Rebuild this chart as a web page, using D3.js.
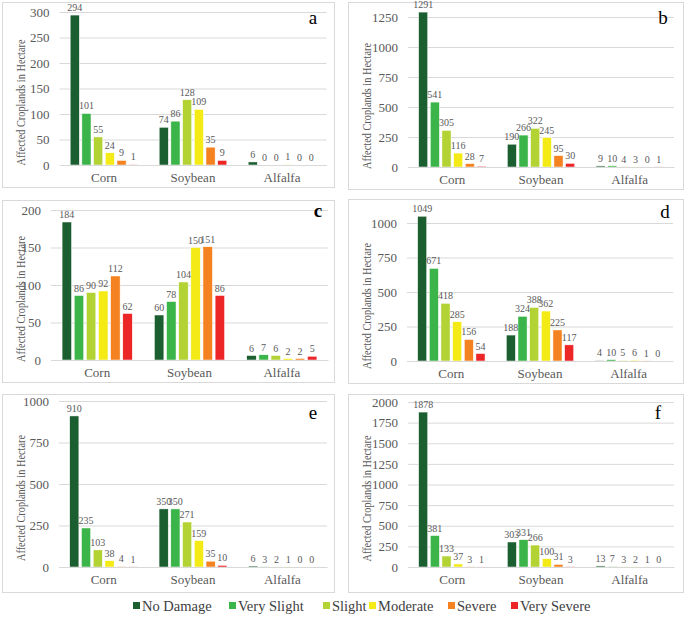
<!DOCTYPE html>
<html><head><meta charset="utf-8">
<script src="https://cdn.jsdelivr.net/npm/d3@7"></script>
</head><body style="margin:0">
<svg id="c" width="685" height="617" style="display:block" font-family="Liberation Serif"></svg>
<script>
const categories = ["Corn", "Soybean", "Alfalfa"];
const series = ["No Damage", "Very Slight", "Slight", "Moderate", "Severe", "Very Severe"];
const colors = ["#1b5e30", "#3bb54a", "#b3d234", "#f4ea16", "#f58220", "#ec2527"];

const panelA = [[294,101,55,24,9,1],[74,86,128,109,35,9],[6,0,0,1,0,0]];
const panelB = [[1291,541,305,116,28,7],[190,266,322,245,95,30],[9,10,4,3,0,1]];
const panelC = [[184,86,90,92,112,62],[60,78,104,150,151,86],[6,7,6,2,2,5]];
const panelD = [[1049,671,418,285,156,54],[188,324,388,362,225,117],[4,10,5,6,1,0]];
const panelE = [[910,235,103,38,4,1],[350,350,271,159,35,10],[6,3,2,1,0,0]];
const panelF = [[1878,381,133,37,3,1],[303,331,266,100,31,3],[13,7,3,2,1,0]];

const ticksA = [0,50,100,150,200,250,300];
const ticksB = [0,250,500,750,1000,1250];
const ticksC = [0,50,100,150,200];
const ticksD = [0,250,500,750,1000];
const ticksE = [0,250,500,750,1000];
const ticksF = [0,250,500,750,1000,1250,1500,1750,2000];

const panels = [
  {label:"a", data:panelA, ticks:ticksA, box:[2,2,334,187], x:[59.5,326.5], y:[165,12], lab:[313,24], bold:false},
  {label:"b", data:panelB, ticks:ticksB, box:[348,2,683,189], x:[408,674], y:[167,17], lab:[663,24], bold:false},
  {label:"c", data:panelC, ticks:ticksC, box:[2,200,334,382], x:[51,328], y:[360,210], lab:[318,217], bold:true},
  {label:"d", data:panelD, ticks:ticksD, box:[348,199,683,383], x:[407,673], y:[361,223], lab:[665,218], bold:false},
  {label:"e", data:panelE, ticks:ticksE, box:[2,394,334,592], x:[59,327], y:[567,401], lab:[313,419], bold:false},
  {label:"f", data:panelF, ticks:ticksF, box:[348,394,683,592], x:[408,674], y:[567,402], lab:[658,419], bold:false}
];

const svg = d3.select("#c");
const FONT = "Liberation Serif";

panels.forEach(p => {
  const g = svg.append("g").attr("font-family",FONT);
  const [bx0,by0,bx1,by1] = p.box;
  g.append("rect").attr("x",bx0+0.5).attr("y",by0+0.5).attr("width",bx1-bx0).attr("height",by1-by0)
    .attr("fill","#fff").attr("stroke","#d9d9d9").attr("stroke-width",1);

  const tmax = p.ticks[p.ticks.length-1];
  const y = d3.scaleLinear().domain([0,tmax]).range(p.y);
  const x0 = d3.scaleBand().domain(categories).range(p.x).paddingInner(0).paddingOuter(0);
  const groupW = x0.bandwidth()*0.76;
  const x1 = d3.scaleBand().domain(series).range([0,groupW]).paddingInner(0.22);

  const yAxis = d3.axisLeft(y).tickValues(p.ticks).tickFormat(d3.format("d"))
    .tickSize(-(p.x[1]-p.x[0])).tickPadding(10);
  const ya = g.append("g").attr("transform",`translate(${p.x[0]},0)`).call(yAxis)
    .attr("font-family",FONT).attr("font-size",13);
  ya.select(".domain").remove();
  ya.selectAll(".tick line").attr("stroke","#d9d9d9");
  ya.selectAll(".tick text").attr("fill","#595959").attr("font-family",FONT);

  p.data.forEach((vals,ci) => {
    const gx = x0(categories[ci]) + (x0.bandwidth()-groupW)/2;
    const gg = g.append("g").attr("transform",`translate(${gx},0)`);
    gg.selectAll("rect").data(vals).join("rect")
      .attr("x",(d,i)=>x1(series[i]))
      .attr("width",x1.bandwidth())
      .attr("y",d=>y(d))
      .attr("height",d=>Math.max(0,y(0)-y(d)))
      .attr("fill",(d,i)=>colors[i])
      .attr("stroke","#fff").attr("stroke-width",0.5);
    gg.selectAll("text").data(vals).join("text")
      .attr("x",(d,i)=>x1(series[i])+x1.bandwidth()/2)
      .attr("y",d=>y(d)-4)
      .attr("text-anchor","middle")
      .attr("fill","#595959")
      .attr("font-family",FONT).attr("font-size",10)
      .text(d=>d);
  });

  const xAxis = d3.axisBottom(x0).tickSize(0).tickPadding(8);
  const xa = g.append("g").attr("transform",`translate(0,${p.y[0]})`).call(xAxis)
    .attr("font-family",FONT).attr("font-size",13);
  xa.select(".domain").attr("stroke","#d9d9d9");
  xa.selectAll(".tick text").attr("fill","#595959").attr("font-family",FONT);

  const cy = (p.y[0]+p.y[1])/2 + 14;
  g.append("text")
    .attr("transform",`translate(${bx0+23},${cy}) rotate(-90)`)
    .attr("text-anchor","middle")
    .attr("fill","#595959")
    .attr("font-family",FONT).attr("font-size",13.5)
    .attr("textLength",126).attr("lengthAdjust","spacingAndGlyphs")
    .text("Affected  Croplands in Hectare");

  g.append("text").attr("x",p.lab[0]).attr("y",p.lab[1])
    .attr("text-anchor","middle")
    .attr("font-family",FONT).attr("font-size",19)
    .attr("font-weight",p.bold?"bold":"normal")
    .attr("fill","#000").text(p.label);
});

const legendX = [133,229,323,369,448,511];
const lg = svg.append("g").attr("font-family",FONT);
series.forEach((s,i) => {
  lg.append("rect").attr("x",legendX[i]).attr("y",602).attr("width",7).attr("height",7).attr("fill",colors[i]);
  lg.append("text").attr("x",legendX[i]+9).attr("y",611)
    .attr("fill","#404040")
    .attr("font-family",FONT).attr("font-size",14.5).text(s);
});
</script>
</body></html>
